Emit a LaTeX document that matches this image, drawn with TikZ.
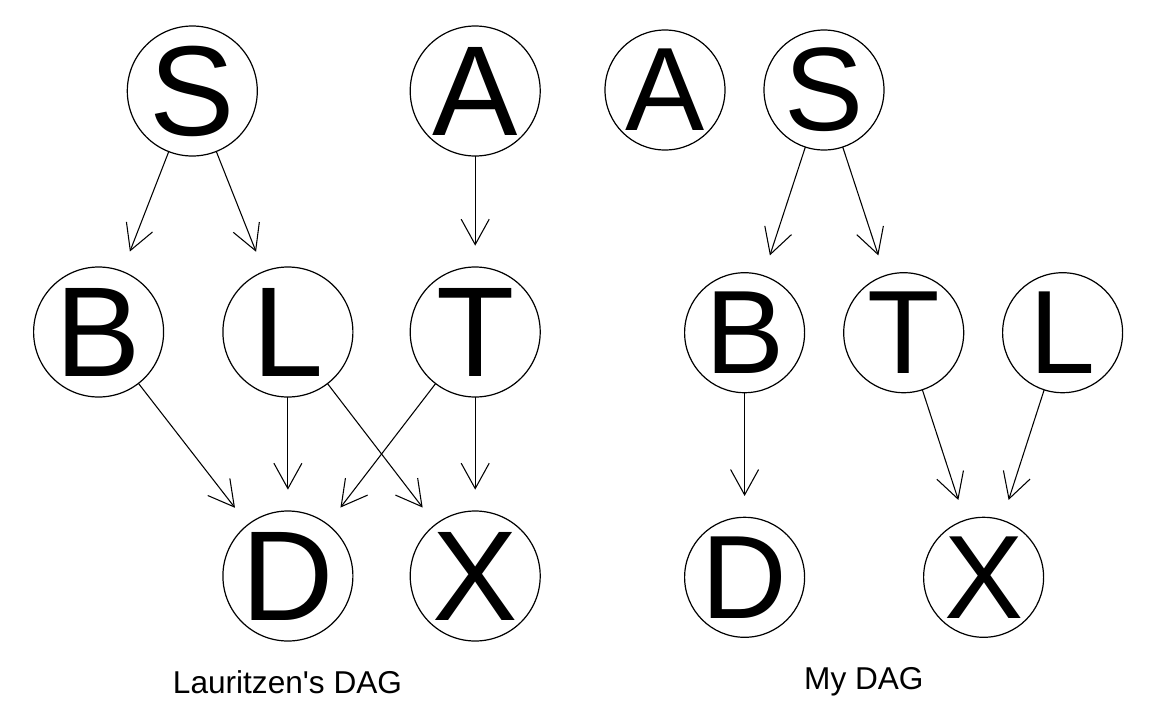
\documentclass[tikz,border=0pt]{standalone}
\usepackage{fontspec}
\setmainfont{Liberation Sans}
\usetikzlibrary{arrows.meta}

\begin{document}
\begin{tikzpicture}[x=0.75pt,y=-0.75pt,
  bignode/.style={circle,draw,line width=0.9pt,minimum size=97.5pt,inner sep=-10pt,outer sep=0pt,font=\fontsize{96}{96}\selectfont},
  smallnode/.style={circle,draw,line width=0.9pt,minimum size=90pt,inner sep=-10pt,outer sep=0pt,font=\fontsize{89}{89}\selectfont},
  dagarrow/.style={-{Straight Barb[length=19pt,width=21pt]},line width=0.8pt,shorten >=16pt},
  daglabel/.style={anchor=base,font=\fontsize{23.7}{24}\selectfont}]
\useasboundingbox (0,0) rectangle (1152,711);
% Lauritzen's DAG
\node[bignode] (lS) at (192.3,91) {S};
\node[bignode] (lA) at (475.2,91) {A};
\node[bignode] (lB) at (98.6,332) {B};
\node[bignode] (lL) at (287.9,332) {L};
\node[bignode] (lT) at (475.2,332) {T};
\node[bignode] (lD) at (287.9,576) {D};
\node[bignode] (lX) at (475.2,576) {X};
\foreach \a/\b in {lS/lB,lS/lL,lA/lT,lB/lD,lL/lD,lL/lX,lT/lD,lT/lX}
  \draw[dagarrow] (\a) -- (\b);
\node[daglabel] (lcap) at (287.5,693) {Lauritzen\textquotesingle s DAG};
% My DAG
\node[smallnode] (rA) at (665,90) {A};
\node[smallnode] (rS) at (824,90) {S};
\node[smallnode] (rB) at (744.6,332.7) {B};
\node[smallnode] (rT) at (903.7,332.7) {T};
\node[smallnode] (rL) at (1062.6,332.7) {L};
\node[smallnode] (rD) at (744.6,577.3) {D};
\node[smallnode] (rX) at (983.6,577.3) {X};
\foreach \a/\b in {rS/rB,rS/rT,rB/rD,rT/rX,rL/rX}
  \draw[dagarrow] (\a) -- (\b);
\node[daglabel] (rcap) at (863.9,689) {My DAG};
\end{tikzpicture}
\end{document}
